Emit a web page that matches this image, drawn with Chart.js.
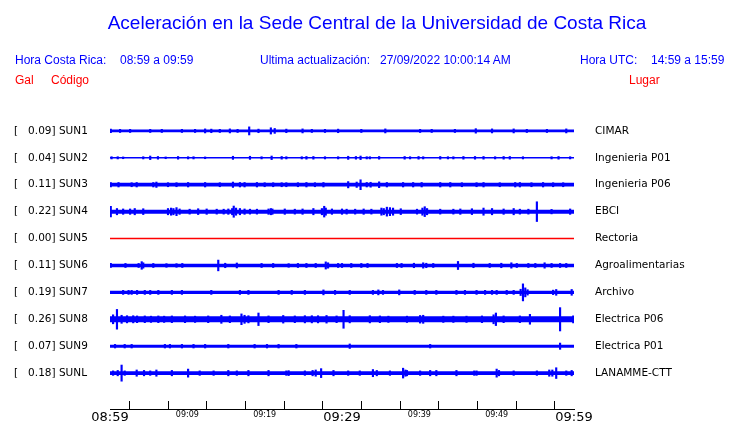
<!DOCTYPE html>
<html>
<head>
<meta charset="utf-8">
<title>Aceleración Sede Central UCR</title>
<script src="https://cdn.jsdelivr.net/npm/chart.js"></script>
<style>
  body { margin: 0; background: #fff; }
  #wrap { position: relative; width: 740px; height: 423px; font-family: "Liberation Sans", Arial, sans-serif; }
  #wrap canvas { position: absolute; left: 0; top: 0; }
  .txt { position: absolute; font-size: 12px; line-height: 14px; white-space: pre; }
  .azul { color: #0000ff; }
  .rojo { color: #ff0000; }
</style>
</head>
<body>
<div id="wrap">
  <canvas id="sismoChart"></canvas>
  <span class="txt azul" style="left:15px;top:53px">Hora Costa Rica:</span>
  <span class="txt azul" style="left:120px;top:53px">08:59 a 09:59</span>
  <span class="txt azul" style="left:260px;top:53px">Ultima actualización:</span>
  <span class="txt azul" style="left:380px;top:53px">27/09/2022 10:00:14 AM</span>
  <span class="txt azul" style="left:580px;top:53px">Hora UTC:</span>
  <span class="txt azul" style="left:651px;top:53px">14:59 a 15:59</span>
  <span class="txt rojo" style="left:15px;top:73px">Gal</span>
  <span class="txt rojo" style="left:51px;top:73px">Código</span>
  <span class="txt rojo" style="left:629px;top:73px">Lugar</span>
</div>
<script>
// Estaciones (de arriba hacia abajo)
const codigos = ['SUN1', 'SUN2', 'SUN3', 'SUN4', 'SUN5', 'SUN6', 'SUN7', 'SUN8', 'SUN9', 'SUNL'];
const lugares = ['CIMAR', 'Ingenieria P01', 'Ingenieria P06', 'EBCI', 'Rectoria',
                 'Agroalimentarias', 'Archivo', 'Electrica P06', 'Electrica P01', 'LANAMME-CTT'];
// Aceleración máxima (Gal)
const picos = [0.09, 0.04, 0.11, 0.22, 0.00, 0.11, 0.19, 0.26, 0.07, 0.18];
// Nivel de ruido de fondo (Gal, semi-amplitud)
const ruido = [0.03, 0.016, 0.042, 0.045, 0, 0.037, 0.037, 0.066, 0.034, 0.04];

// Etiquetas del eje de tiempo (cada 5 minutos desde 08:59)
const etiquetasTiempo = ['08:59', '', '09:09', '', '09:19', '', '09:29', '', '09:39', '', '09:49', '', '09:59'];

// Picos de cada traza: [minuto, semi-amplitud en Gal]
const sun1 = [[0.1,0.04],[1.3,0.035],[2.6,0.035],[5.2,0.035],[6.7,0.035],[9.3,0.035],[11.0,0.035],[12.3,0.045],
  [13.1,0.04],[14.2,0.035],[15.5,0.045],[16.5,0.035],[18.0,0.09],[19.2,0.04],[20.8,0.07],[21.3,0.055],[22.8,0.04],
  [24.9,0.045],[26.1,0.035],[27.8,0.035],[29.5,0.04],[32.5,0.035],[35.6,0.045],[40.1,0.035],[41.6,0.035],
  [44.6,0.035],[47.3,0.05],[49.4,0.045],[52.2,0.045],[53.9,0.035],[56.5,0.035],[59.0,0.045]];
const sun2 = [[0.2,0.025],[1.0,0.025],[1.7,0.02],[4.3,0.025],[5.2,0.04],[6.2,0.03],[7.2,0.02],[8.8,0.03],[10.1,0.025],
  [10.8,0.025],[12.3,0.02],[15.9,0.035],[18.1,0.035],[19.6,0.025],[20.9,0.04],[22.2,0.03],[22.8,0.025],[24.8,0.025],
  [25.4,0.03],[26.3,0.03],[27.8,0.025],[29.5,0.025],[30.8,0.035],[31.8,0.03],[32.4,0.04],[33.2,0.025],[33.6,0.025],
  [34.8,0.03],[38.1,0.03],[38.8,0.025],[39.9,0.03],[40.5,0.025],[42.7,0.03],[43.7,0.025],[44.4,0.025],[45.7,0.03],
  [47.2,0.03],[48.3,0.03],[49.8,0.025],[50.9,0.03],[51.7,0.03],[53.4,0.025],[57.1,0.025],[58.0,0.03],[59.5,0.025]];
const sun3 = [[0.1,0.05],[1.1,0.05],[2.8,0.045],[3.45,0.05],[5.6,0.05],[6.0,0.06],[7.5,0.045],[8.6,0.045],[10.1,0.05],
  [12.3,0.05],[14.2,0.045],[15.9,0.06],[16.8,0.05],[17.4,0.05],[19.0,0.05],[20.0,0.045],[21.1,0.045],[22.2,0.045],
  [22.8,0.045],[24.3,0.045],[25.4,0.05],[26.5,0.045],[27.6,0.05],[30.8,0.07],[31.9,0.06],[32.4,0.11],[33.2,0.05],
  [33.7,0.055],[34.8,0.065],[35.8,0.05],[37.9,0.05],[39.2,0.05],[40.3,0.05],[42.7,0.05],[44.0,0.05],[45.5,0.045],
  [47.4,0.045],[48.3,0.05],[50.4,0.045],[52.4,0.05],[53.0,0.05],[54.5,0.045],[56.0,0.05],[57.3,0.045],[58.6,0.045]];
const sun4 = [[0.1,0.12],[0.9,0.07],[1.7,0.06],[2.6,0.06],[3.2,0.07],[4.3,0.065],[7.5,0.07],[7.9,0.08],[8.2,0.07],
  [8.6,0.09],[9.0,0.06],[10.3,0.055],[11.4,0.065],[12.5,0.06],[13.8,0.055],[14.7,0.055],[15.3,0.06],[15.8,0.07],
  [16.0,0.125],[16.3,0.08],[16.8,0.07],[17.4,0.06],[18.1,0.055],[19.0,0.055],[20.5,0.06],[20.8,0.07],[21.0,0.06],
  [22.6,0.06],[23.9,0.055],[24.9,0.06],[26.3,0.07],[27.4,0.07],[27.7,0.12],[27.9,0.08],[28.7,0.06],[30.0,0.06],
  [30.6,0.055],[31.7,0.055],[32.8,0.06],[33.8,0.055],[35.1,0.08],[35.4,0.07],[35.8,0.1],[36.2,0.09],[36.6,0.08],
  [37.6,0.065],[39.7,0.055],[40.4,0.08],[40.7,0.11],[41.0,0.07],[42.7,0.055],[44.4,0.055],[45.3,0.06],[46.8,0.065],
  [48.3,0.08],[49.4,0.07],[50.9,0.06],[52.2,0.07],[53.0,0.055],[54.1,0.055],[55.2,0.22],[57.1,0.05],[59.5,0.06]];
const sun5 = [];
const sun6 = [[0.1,0.045],[2.0,0.045],[3.7,0.045],[4.1,0.085],[4.3,0.06],[5.6,0.045],[7.3,0.04],[8.6,0.04],[9.35,0.045],
  [14.0,0.12],[14.9,0.05],[16.4,0.055],[19.6,0.045],[21.1,0.045],[23.1,0.04],[24.3,0.045],[25.4,0.045],[26.6,0.045],
  [27.9,0.08],[28.2,0.06],[29.5,0.045],[30.0,0.045],[31.2,0.045],[32.5,0.045],[33.3,0.045],[37.1,0.045],[37.7,0.045],
  [39.3,0.05],[40.5,0.06],[40.9,0.05],[41.8,0.045],[45.0,0.09],[47.0,0.05],[49.1,0.045],[50.6,0.05],[51.9,0.06],
  [52.6,0.045],[54.1,0.045],[55.0,0.045],[56.2,0.06],[57.1,0.045],[58.2,0.045],[59.0,0.045]];
const sun7 = [[1.7,0.045],[2.4,0.045],[2.8,0.045],[3.5,0.045],[4.5,0.045],[5.2,0.045],[6.25,0.045],[8.0,0.045],
  [9.3,0.045],[13.1,0.045],[16.8,0.045],[17.9,0.045],[21.8,0.045],[23.5,0.045],[25.2,0.045],[27.6,0.055],[29.1,0.045],
  [31.0,0.045],[34.0,0.045],[34.7,0.055],[35.3,0.045],[37.4,0.055],[39.4,0.045],[40.9,0.045],[42.2,0.045],
  [44.8,0.045],[45.9,0.045],[47.4,0.045],[48.5,0.045],[49.4,0.045],[50.0,0.045],[51.3,0.045],[52.2,0.045],
  [53.1,0.07],[53.4,0.19],[53.7,0.1],[54.0,0.06],[57.3,0.05],[57.7,0.065],[59.7,0.065]];
const sun8 = [[0.4,0.1],[0.9,0.22],[1.5,0.09],[2.2,0.08],[3.0,0.08],[3.5,0.075],[4.5,0.075],[5.3,0.07],[6.25,0.075],
  [7.0,0.07],[8.0,0.075],[9.7,0.075],[11.0,0.07],[12.7,0.075],[14.4,0.09],[15.5,0.075],[17.0,0.12],[17.4,0.09],
  [17.9,0.08],[19.2,0.14],[20.5,0.075],[22.4,0.085],[23.9,0.075],[25.2,0.08],[26.1,0.08],[26.9,0.08],[28.0,0.085],
  [29.3,0.075],[30.2,0.2],[31.0,0.08],[33.6,0.08],[34.9,0.075],[36.0,0.07],[38.4,0.07],[40.1,0.085],[40.5,0.09],
  [43.1,0.07],[44.4,0.07],[46.1,0.07],[48.1,0.075],[49.6,0.1],[49.9,0.14],[50.9,0.075],[53.0,0.075],[54.3,0.11],
  [58.2,0.26],[59.9,0.08]];
const sun9 = [[0.65,0.04],[1.9,0.04],[2.8,0.04],[7.1,0.04],[7.75,0.04],[9.3,0.04],[10.8,0.04],[12.3,0.04],
  [15.3,0.04],[18.7,0.04],[20.3,0.04],[21.8,0.04],[24.1,0.04],[31.0,0.05],[41.4,0.04],[58.2,0.07]];
const sunl = [[0.4,0.05],[1.0,0.06],[1.5,0.18],[1.9,0.05],[3.45,0.07],[4.4,0.06],[5.2,0.05],[6.0,0.07],[8.0,0.06],
  [10.1,0.09],[11.6,0.05],[13.4,0.05],[15.3,0.06],[16.4,0.05],[17.9,0.06],[20.5,0.06],[22.8,0.05],[23.1,0.055],
  [25.2,0.05],[26.2,0.06],[26.6,0.07],[27.3,0.1],[28.9,0.06],[30.8,0.05],[32.3,0.05],[34.0,0.08],[34.5,0.06],
  [36.2,0.05],[37.9,0.11],[38.2,0.07],[38.4,0.06],[40.1,0.05],[41.4,0.06],[42.2,0.06],[44.8,0.06],[47.1,0.05],
  [47.4,0.05],[50.0,0.09],[50.3,0.06],[52.2,0.05],[55.2,0.05],[56.8,0.07],[57.2,0.07],[57.7,0.12],[59.0,0.05],
  [59.7,0.06]];

const trazas = [sun1, sun2, sun3, sun4, sun5, sun6, sun7, sun8, sun9, sunl];

// Separación vertical entre trazas (Gal)
const SEP = 0.6;
const centros = codigos.map((c, k) => (codigos.length - 1 - k) * SEP);

const etiquetasIzq = codigos.map((c, k) => '[   ' + picos[k].toFixed(2) + '] ' + c);

// Construir datasets
const datasets = [];
trazas.forEach((picosTraza, k) => {
    const c = centros[k];
    const n = ruido[k];
    if (picos[k] === 0) {
        // estación sin señal: línea roja
        datasets.push({
            type: 'line',
            data: [{ x: 0, y: c }, { x: 60, y: c }],
            borderColor: '#ff0000',
            borderWidth: 1.5,
            pointRadius: 0,
            fill: false
        });
        return;
    }
    // banda de ruido de fondo
    datasets.push({
        type: 'line',
        data: [{ x: 0, y: c + n }, { x: 60, y: c + n }],
        borderWidth: 0,
        pointRadius: 0,
        backgroundColor: '#0000ff',
        fill: { value: c - n }
    });
    // picos
    datasets.push({
        type: 'bar',
        data: picosTraza.map(p => ({ x: p[0], y: [c - p[1], c + p[1]] })),
        backgroundColor: '#0000ff',
        borderWidth: 0,
        barThickness: 1.5,
        grouped: false
    });
});

const ticksFilas = scale => { scale.ticks = centros.map(v => ({ value: v })); };
// ancho fijo de los ejes laterales, sin relleno extra arriba/abajo
const anchoFijo = w => scale => { scale.width = w; scale.paddingTop = 0; scale.paddingBottom = 0; };

new Chart(document.getElementById('sismoChart'), {
    type: 'line',
    data: { datasets: datasets },
    options: {
        responsive: true,
        maintainAspectRatio: false,
        animation: false,
        layout: { padding: { left: 14, right: 0, top: 0, bottom: 0 } },
        plugins: {
            legend: { display: false },
            tooltip: { enabled: false },
            title: {
                display: true,
                text: 'Aceleración en la Sede Central de la Universidad de Costa Rica',
                color: '#0000ff',
                font: { family: 'Liberation Sans', size: 19, weight: 'normal' },
                padding: { top: 12.6, bottom: 68.6 }
            }
        },
        scales: {
            x: {
                type: 'linear',
                min: 0,
                max: 60,
                offset: false,
                afterFit: s => { s.height = 14; },
                border: { display: true, color: '#000', width: 1 },
                grid: { drawOnChartArea: false, drawTicks: true, tickLength: -8, color: '#000' },
                ticks: {
                    stepSize: 5,
                    autoSkip: false,
                    maxRotation: 0,
                    padding: 10,
                    color: '#000',
                    font: ctx => (ctx.tick && ctx.tick.value % 30 === 0)
                        ? { family: 'DejaVu Sans', size: 13, lineHeight: 1 }
                        : { family: 'DejaVu Sans', size: 8, lineHeight: 1 },
                    callback: v => etiquetasTiempo[Math.round(v / 5)]
                }
            },
            y: {
                position: 'left',
                min: -0.8,
                max: 6.0,
                afterBuildTicks: ticksFilas,
                afterFit: anchoFijo(96),
                grid: { display: false },
                border: { display: false },
                ticks: {
                    crossAlign: 'far',
                    autoSkip: false,
                    color: '#000',
                    font: { family: 'DejaVu Sans', size: 10.5 },
                    callback: (v, i) => etiquetasIzq[i]
                }
            },
            y2: {
                position: 'right',
                min: -0.8,
                max: 6.0,
                afterBuildTicks: ticksFilas,
                afterFit: anchoFijo(166),
                grid: { display: false },
                border: { display: false },
                ticks: {
                    padding: 13,
                    autoSkip: false,
                    color: '#000',
                    font: { family: 'DejaVu Sans', size: 10.5 },
                    callback: (v, i) => lugares[i]
                }
            }
        }
    }
});
</script>
</body>
</html>
